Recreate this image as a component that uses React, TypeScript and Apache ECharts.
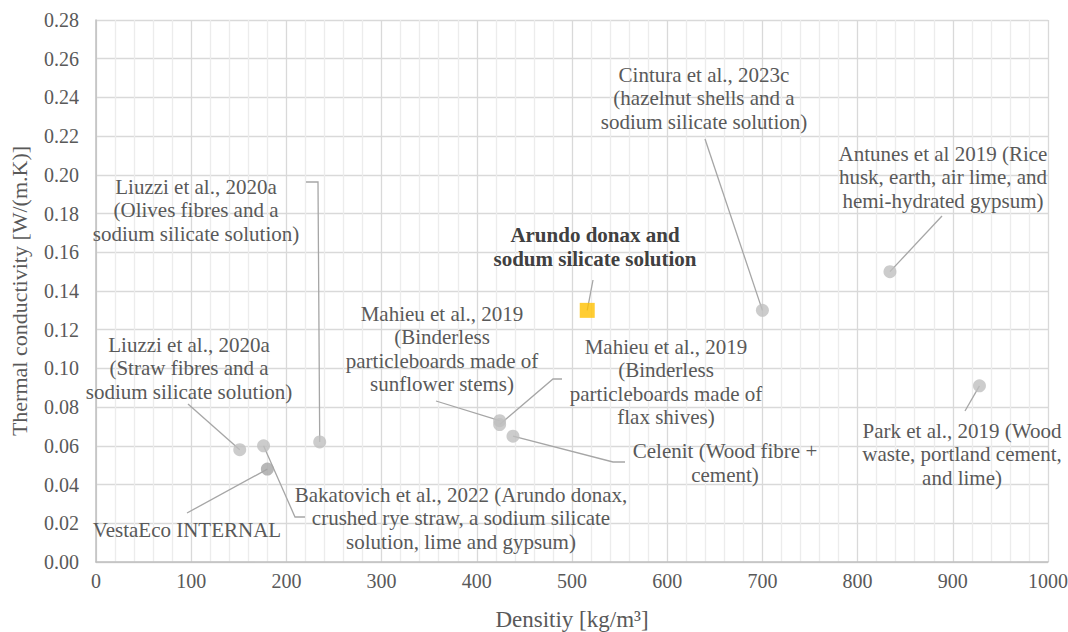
import React, { useEffect, useRef } from "react";
import * as echarts from "echarts";

const studyNames = [
  "Liuzzi et al., 2020a\n(Straw fibres and a\nsodium silicate solution)",
  "Bakatovich et al., 2022 (Arundo donax,\ncrushed rye straw, a sodium silicate\nsolution, lime and gypsum)",
  "VestaEco INTERNAL",
  "Liuzzi et al., 2020a\n(Olives fibres and a\nsodium silicate solution)",
  "Mahieu et al., 2019\n(Binderless\nparticleboards made of\nsunflower stems)",
  "Mahieu et al., 2019\n(Binderless\nparticleboards made of\nflax shives)",
  "Celenit (Wood fibre +\ncement)",
  "Arundo donax and\nsodum silicate solution",
  "Cintura et al., 2023c\n(hazelnut shells and a\nsodium silicate solution)",
  "Antunes et al 2019 (Rice\nhusk, earth, air lime, and\nhemi-hydrated gypsum)",
  "Park et al., 2019 (Wood\nwaste, portland cement,\nand lime)",
];
const densities = [151, 176, 180, 235, 424, 424, 438, 516, 700, 834, 928];
const conductivities = [0.058, 0.06, 0.048, 0.062, 0.073, 0.071, 0.065, 0.13, 0.13, 0.15, 0.091];
const groups = ["lit", "lit", "vesta", "lit", "lit", "lit", "lit", "arundo", "lit", "lit", "lit"];
const xTicks = [0, 100, 200, 300, 400, 500, 600, 700, 800, 900, 1000];
const yTicks = [0, 0.02, 0.04, 0.06, 0.08, 0.1, 0.12, 0.14, 0.16, 0.18, 0.2, 0.22, 0.24, 0.26, 0.28];

// label layout (pixels): block centre and leader path (from label side towards point)
const labelLayout = [
  { x: 189, y: 368, leader: [[188, 404]] },
  { x: 461, y: 518, leader: [[305, 517], [295, 517]] },
  { x: 187, y: 530, leader: [[187, 513]] },
  { x: 196, y: 210, leader: [[306, 182], [318, 182]] },
  { x: 442, y: 349, leader: [[436, 401]] },
  { x: 666, y: 382, leader: [[562, 379], [553, 379]] },
  { x: 725, y: 463, leader: [[625, 462], [613, 462]] },
  { x: 595, y: 247, leader: [[593, 280]] },
  { x: 704, y: 98, leader: [[705, 139]] },
  { x: 943, y: 177, leader: [[942, 216]] },
  { x: 962, y: 454, leader: [[965, 411]] },
];

const FONT = "Liberation Serif";
const TXT = "#595959";

export default function App() {
  const ref = useRef<HTMLDivElement>(null);
  useEffect(() => {
    document.body.style.margin = "0";
    const chart = echarts.init(ref.current!, null, { renderer: "svg" });
    const pick = (g: string) =>
      densities.map((d, i) => (groups[i] === g ? [d, conductivities[i]] : null)).filter((v) => v);
    const option: any = {
      animation: false,
      backgroundColor: "#ffffff",
      textStyle: { fontFamily: FONT },
      grid: { left: 96, right: 20, top: 20, bottom: 70, containLabel: false, outerBoundsMode: "none" },
      xAxis: {
        type: "value",
        min: xTicks[0],
        max: xTicks[xTicks.length - 1],
        interval: 100,
        name: "Densitiy [kg/m³]",
        nameLocation: "middle",
        nameGap: 46,
        nameTextStyle: { color: TXT, fontSize: 23, fontFamily: FONT },
        axisLine: { show: true, lineStyle: { color: "#bfbfbf", width: 1.5 } },
        axisTick: { show: false },
        axisLabel: { color: TXT, fontSize: 20, fontFamily: FONT, margin: 9, formatter: (v: number) => String(v) },
        splitLine: { show: true, lineStyle: { color: "#d9d9d9", width: 1.3 } },
        minorTick: { show: false, splitNumber: 5 },
        minorSplitLine: { show: true, lineStyle: { color: "#ececec", width: 1.3 } },
      },
      yAxis: {
        type: "value",
        min: yTicks[0],
        max: yTicks[yTicks.length - 1],
        interval: 0.02,
        name: "Thermal conductivity [W/(m.K)]",
        nameLocation: "middle",
        nameGap: 66,
        nameTextStyle: { color: TXT, fontSize: 22, fontFamily: FONT },
        axisLine: { show: true, lineStyle: { color: "#bfbfbf", width: 1.5 } },
        axisTick: { show: false },
        axisLabel: {
          color: TXT,
          fontSize: 20,
          fontFamily: FONT,
          margin: 17,
          formatter: (v: number) => v.toFixed(2),
        },
        splitLine: { show: true, lineStyle: { color: "#d9d9d9", width: 1.3 } },
      },
      series: [
        {
          type: "scatter",
          name: "Literature",
          symbol: "circle",
          symbolSize: 13,
          itemStyle: { color: "#bfbfbf" },
          data: pick("lit"),
          z: 3,
        },
        {
          type: "scatter",
          name: "VestaEco",
          symbol: "circle",
          symbolSize: 13,
          itemStyle: { color: "#a5a5a5" },
          data: pick("vesta"),
          z: 3,
        },
        {
          type: "scatter",
          name: "Arundo",
          symbol: "rect",
          symbolSize: 15,
          itemStyle: { color: "#ffc000" },
          data: pick("arundo"),
          z: 3,
        },
      ],
    };
    chart.setOption(option);

    const graphics: any[] = [];
    studyNames.forEach((name, i) => {
      const p = chart.convertToPixel({ gridIndex: 0 }, [densities[i], conductivities[i]]);
      const L = labelLayout[i];
      const pts = [...L.leader, p];
      graphics.push({
        type: "polyline",
        z: 2,
        shape: { points: pts },
        style: { stroke: "#a6a6a6", lineWidth: 1.3, fill: null },
        silent: true,
      });
      const bold = groups[i] === "arundo";
      graphics.push({
        type: "text",
        z: 4,
        x: L.x,
        y: L.y,
        style: {
          text: name,
          fill: bold ? "#404040" : TXT,
          fontFamily: FONT,
          fontSize: 21,
          fontWeight: bold ? "bold" : "normal",
          align: "center",
          verticalAlign: "middle",
          lineHeight: 23.5,
        },
      });
    });
    chart.setOption({ graphic: graphics });

    return () => chart.dispose();
  }, []);
  return (
    <div
      ref={ref}
      style={{ position: "fixed", left: 0, top: 0, width: 1068, height: 632 }}
    />
  );
}
